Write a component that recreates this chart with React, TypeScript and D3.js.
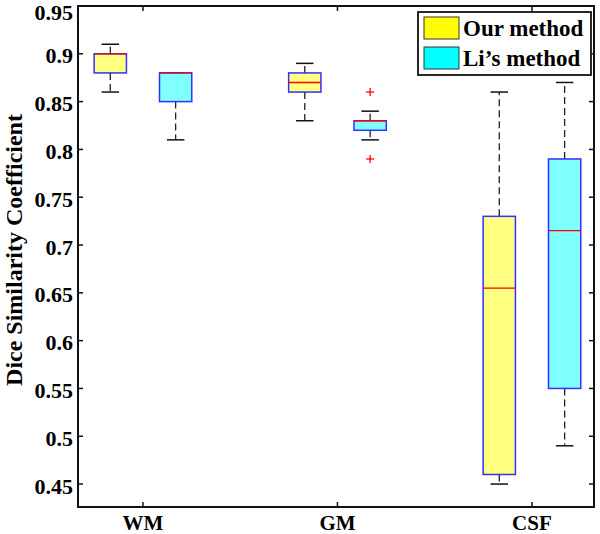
import React from "react";
import * as d3 from "d3";

const categories = ["WM", "GM", "CSF"];
const seriesNames = ["Our method", "Li\u2019s method"];
// [lowerWhisker, q1, median, q3, upperWhisker]
const ourStats = [
  [0.86, 0.88, 0.9, 0.9, 0.91],
  [0.83, 0.86, 0.87, 0.88, 0.89],
  [0.45, 0.46, 0.655, 0.73, 0.86],
];
const liStats = [
  [0.81, 0.85, 0.88, 0.88, 0.88],
  [0.81, 0.82, 0.83, 0.83, 0.84],
  [0.49, 0.55, 0.715, 0.79, 0.87],
];
const ourOutliers: number[][] = [[], [], []];
const liOutliers: number[][] = [[], [0.86, 0.79], []];
const yTicks = [0.45, 0.5, 0.55, 0.6, 0.65, 0.7, 0.75, 0.8, 0.85, 0.9, 0.95];

const W = 600, H = 534;
const left = 78, right = 594, top = 6, bottom = 507;
const fontFam = "'Liberation Serif', 'Times New Roman', serif";

export default function App() {
  const y = d3.scaleLinear().domain([0.426, 0.95]).range([bottom, top]);
  const x = d3.scaleLinear().domain([0.666, 3.319]).range([left, right]);
  const offset = 0.168;
  const halfBox = 0.083;
  const halfCap = 0.045;
  const series = [
    { stats: ourStats, outliers: ourOutliers, fill: "#ffff80", sw: "#ffff00", off: -offset },
    { stats: liStats, outliers: liOutliers, fill: "#80ffff", sw: "#00ffff", off: offset },
  ];
  const tickLen = 5;
  return (
    <svg width={W} height={H} style={{ position: "absolute", left: 0, top: 0, background: "#fff", overflow: "hidden" }}>
      {series.map((s, si) =>
        categories.map((c, ci) => {
          const [lw, q1, med, q3, uw] = s.stats[ci];
          const cx = x(ci + 1 + s.off);
          const x0 = x(ci + 1 + s.off - halfBox);
          const x1 = x(ci + 1 + s.off + halfBox);
          const c0 = x(ci + 1 + s.off - halfCap);
          const c1 = x(ci + 1 + s.off + halfCap);
          return (
            <g key={`${si}-${ci}`}>
              {uw > q3 && <line x1={cx} x2={cx} y1={y(q3)} y2={y(uw)} stroke="#222" strokeWidth={1.3} strokeDasharray="7,4" />}
              {lw < q1 && <line x1={cx} x2={cx} y1={y(q1)} y2={y(lw)} stroke="#222" strokeWidth={1.3} strokeDasharray="7,4" />}
              <line x1={c0} x2={c1} y1={y(uw)} y2={y(uw)} stroke="#111" strokeWidth={1.5} />
              <line x1={c0} x2={c1} y1={y(lw)} y2={y(lw)} stroke="#111" strokeWidth={1.5} />
              <rect x={x0} y={y(q3)} width={x1 - x0} height={y(q1) - y(q3)} fill={s.fill} stroke="#3030ff" strokeWidth={1.5} />
              <line x1={x0} x2={x1} y1={y(med)} y2={y(med)} stroke="#ff0000" strokeWidth={1.3} />
              {s.outliers[ci].map((o, oi) => (
                <g key={oi} stroke="#ff0000" strokeWidth={1.3}>
                  <line x1={cx - 4} x2={cx + 4} y1={y(o)} y2={y(o)} />
                  <line x1={cx} x2={cx} y1={y(o) - 4} y2={y(o) + 4} />
                </g>
              ))}
            </g>
          );
        })
      )}
      <rect x={left} y={top} width={right - left} height={bottom - top} fill="none" stroke="#111" strokeWidth={2} />
      {yTicks.map((t) => (
        <g key={t}>
          <line x1={left} x2={left + tickLen} y1={y(t)} y2={y(t)} stroke="#111" strokeWidth={1.5} />
          <line x1={right} x2={right - tickLen} y1={y(t)} y2={y(t)} stroke="#111" strokeWidth={1.5} />
          <text x={73} y={Math.max(y(t) + 9.5, 19.5)} textAnchor="end" fontFamily={fontFam} fontWeight="bold" fontSize={22} fill="#000">
            {String(t)}
          </text>
        </g>
      ))}
      {categories.map((c, ci) => (
        <g key={c}>
          <line x1={x(ci + 1)} x2={x(ci + 1)} y1={bottom} y2={bottom - tickLen} stroke="#111" strokeWidth={1.5} />
          <line x1={x(ci + 1)} x2={x(ci + 1)} y1={top} y2={top + tickLen} stroke="#111" strokeWidth={1.5} />
          <text x={x(ci + 1)} y={530} textAnchor="middle" fontFamily={fontFam} fontWeight="bold" fontSize={21} fill="#000">
            {c}
          </text>
        </g>
      ))}
      <text transform={`translate(22,250) rotate(-90)`} textAnchor="middle" fontFamily={fontFam} fontWeight="bold" fontSize={24} fill="#000">
        Dice Similarity Coefficient
      </text>
      <g>
        <rect x={418} y={12} width={173} height={63} fill="#fff" stroke="#111" strokeWidth={1.8} />
        {series.map((s, si) => (
          <g key={si}>
            <rect x={424} y={17 + si * 30} width={35} height={22} fill={s.sw} stroke="#333" strokeWidth={1} />
            <text x={463} y={36 + si * 30} fontFamily={fontFam} fontWeight="bold" fontSize={23} fill="#000">
              {seriesNames[si]}
            </text>
          </g>
        ))}
      </g>
    </svg>
  );
}
